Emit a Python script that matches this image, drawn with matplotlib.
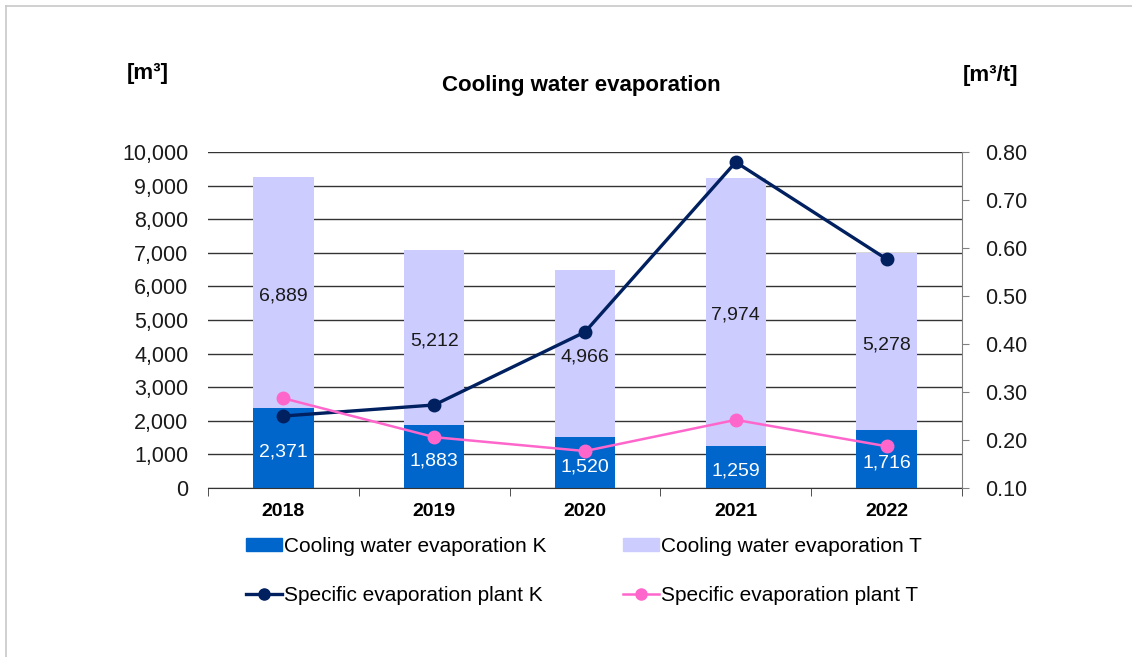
import matplotlib.pyplot as plt
from matplotlib.lines import Line2D
from matplotlib.patches import Patch

plt.rcParams['font.family'] = ['Liberation Sans', 'DejaVu Sans']

# data
years = ['2018', '2019', '2020', '2021', '2022']
evap_k = [2371, 1883, 1520, 1259, 1716]
evap_t = [6889, 5212, 4966, 7974, 5278]
spec_k = [0.25, 0.273, 0.425, 0.779, 0.577]
spec_t = [0.287, 0.206, 0.177, 0.242, 0.187]

col_k = '#0066CC'
col_t = '#CCCCFF'
col_lk = '#002060'
col_lt = '#FF66CC'

fig = plt.figure(figsize=(11.32, 6.57), dpi=100)
ax = fig.add_axes([0.1837, 0.2572, 0.6661, 0.5114])
x = list(range(len(years)))

ax.bar(x, evap_k, width=0.4, color=col_k, zorder=2)
ax.bar(x, evap_t, width=0.4, bottom=evap_k, color=col_t, zorder=2)

# value labels, nudged down a little like in the original
for i in x:
    ax.annotate(f'{evap_k[i]:,}', (i, evap_k[i] / 2), xytext=(0, -3), textcoords='offset points',
                ha='center', va='center', color='white', fontsize=14, zorder=5)
    ax.annotate(f'{evap_t[i]:,}', (i, evap_k[i] + evap_t[i] / 2), xytext=(0, -2.5),
                textcoords='offset points', ha='center', va='center',
                color='#1a1a1a', fontsize=14, zorder=5)

ax.set_xlim(-0.5, 4.5)
ax.set_ylim(0, 10000)
ax.set_yticks(range(0, 10001, 1000))
ax.set_yticklabels([f'{v:,}' for v in range(0, 10001, 1000)])
ax.yaxis.grid(True, color='#333333', lw=1)
ax.set_axisbelow(True)
ax.set_xticks(x)
ax.set_xticklabels(years, fontweight='bold', fontsize=14)
ax.set_xticks([-0.5, 0.5, 1.5, 2.5, 3.5, 4.5], minor=True)
ax.tick_params(axis='x', which='major', length=0, pad=11)
ax.tick_params(axis='x', which='minor', length=6, color='#333333')
ax.tick_params(axis='y', length=0, labelsize=15.5, pad=14, colors='#1a1a1a')
for s in ['top', 'left', 'right']:
    ax.spines[s].set_visible(False)
ax.spines['bottom'].set_color('#333333')

ax2 = ax.twinx()
ax2.plot(x, spec_k, color=col_lk, lw=2.4, marker='o', ms=9, zorder=4)
ax2.plot(x, spec_t, color=col_lt, lw=1.8, marker='o', ms=9, zorder=4)
ax2.set_ylim(0.1, 0.8)
ax2.set_yticks([0.1, 0.2, 0.3, 0.4, 0.5, 0.6, 0.7, 0.8])
ax2.set_yticklabels([f'{v:.2f}' for v in [0.1, 0.2, 0.3, 0.4, 0.5, 0.6, 0.7, 0.8]])
ax2.tick_params(axis='y', length=5, color='#808080', labelsize=15.5, pad=12, labelcolor='#1a1a1a')
for s in ['top', 'left', 'bottom']:
    ax2.spines[s].set_visible(False)
ax2.spines['right'].set_color('#808080')

fig.text(148 / 1132, 1 - 73 / 657, '[m³]', ha='center', va='center', fontsize=16, fontweight='bold')
fig.text(991 / 1132, 1 - 75 / 657, '[m³/t]', ha='center', va='center', fontsize=16, fontweight='bold')
fig.text(581 / 1132, 1 - 85 / 657, 'Cooling water evaporation', ha='center', va='center',
         fontsize=16, fontweight='bold')

handles = [
    Patch(color=col_k),
    Line2D([], [], color=col_lk, lw=2.4, marker='o', ms=8),
    Patch(color=col_t),
    Line2D([], [], color=col_lt, lw=1.8, marker='o', ms=8),
]
labels = ['Cooling water evaporation K', 'Specific evaporation plant K',
          'Cooling water evaporation T', 'Specific evaporation plant T']
fig.legend(handles, labels, ncol=2, loc='center', bbox_to_anchor=(584 / 1132, 1 - 571 / 657),
           frameon=False, fontsize=15, handlelength=1.7, handleheight=0.55, handletextpad=0.1,
           columnspacing=3.7, labelspacing=1.45)

# outer frame lines (top and left)
fig.add_artist(Line2D([6 / 1132, 6 / 1132], [0, 1 - 6 / 657], color='#c8c8c8', lw=1.2))
fig.add_artist(Line2D([6 / 1132, 1], [1 - 6 / 657, 1 - 6 / 657], color='#c8c8c8', lw=1.2))

fig.savefig('out.png', dpi=100)
